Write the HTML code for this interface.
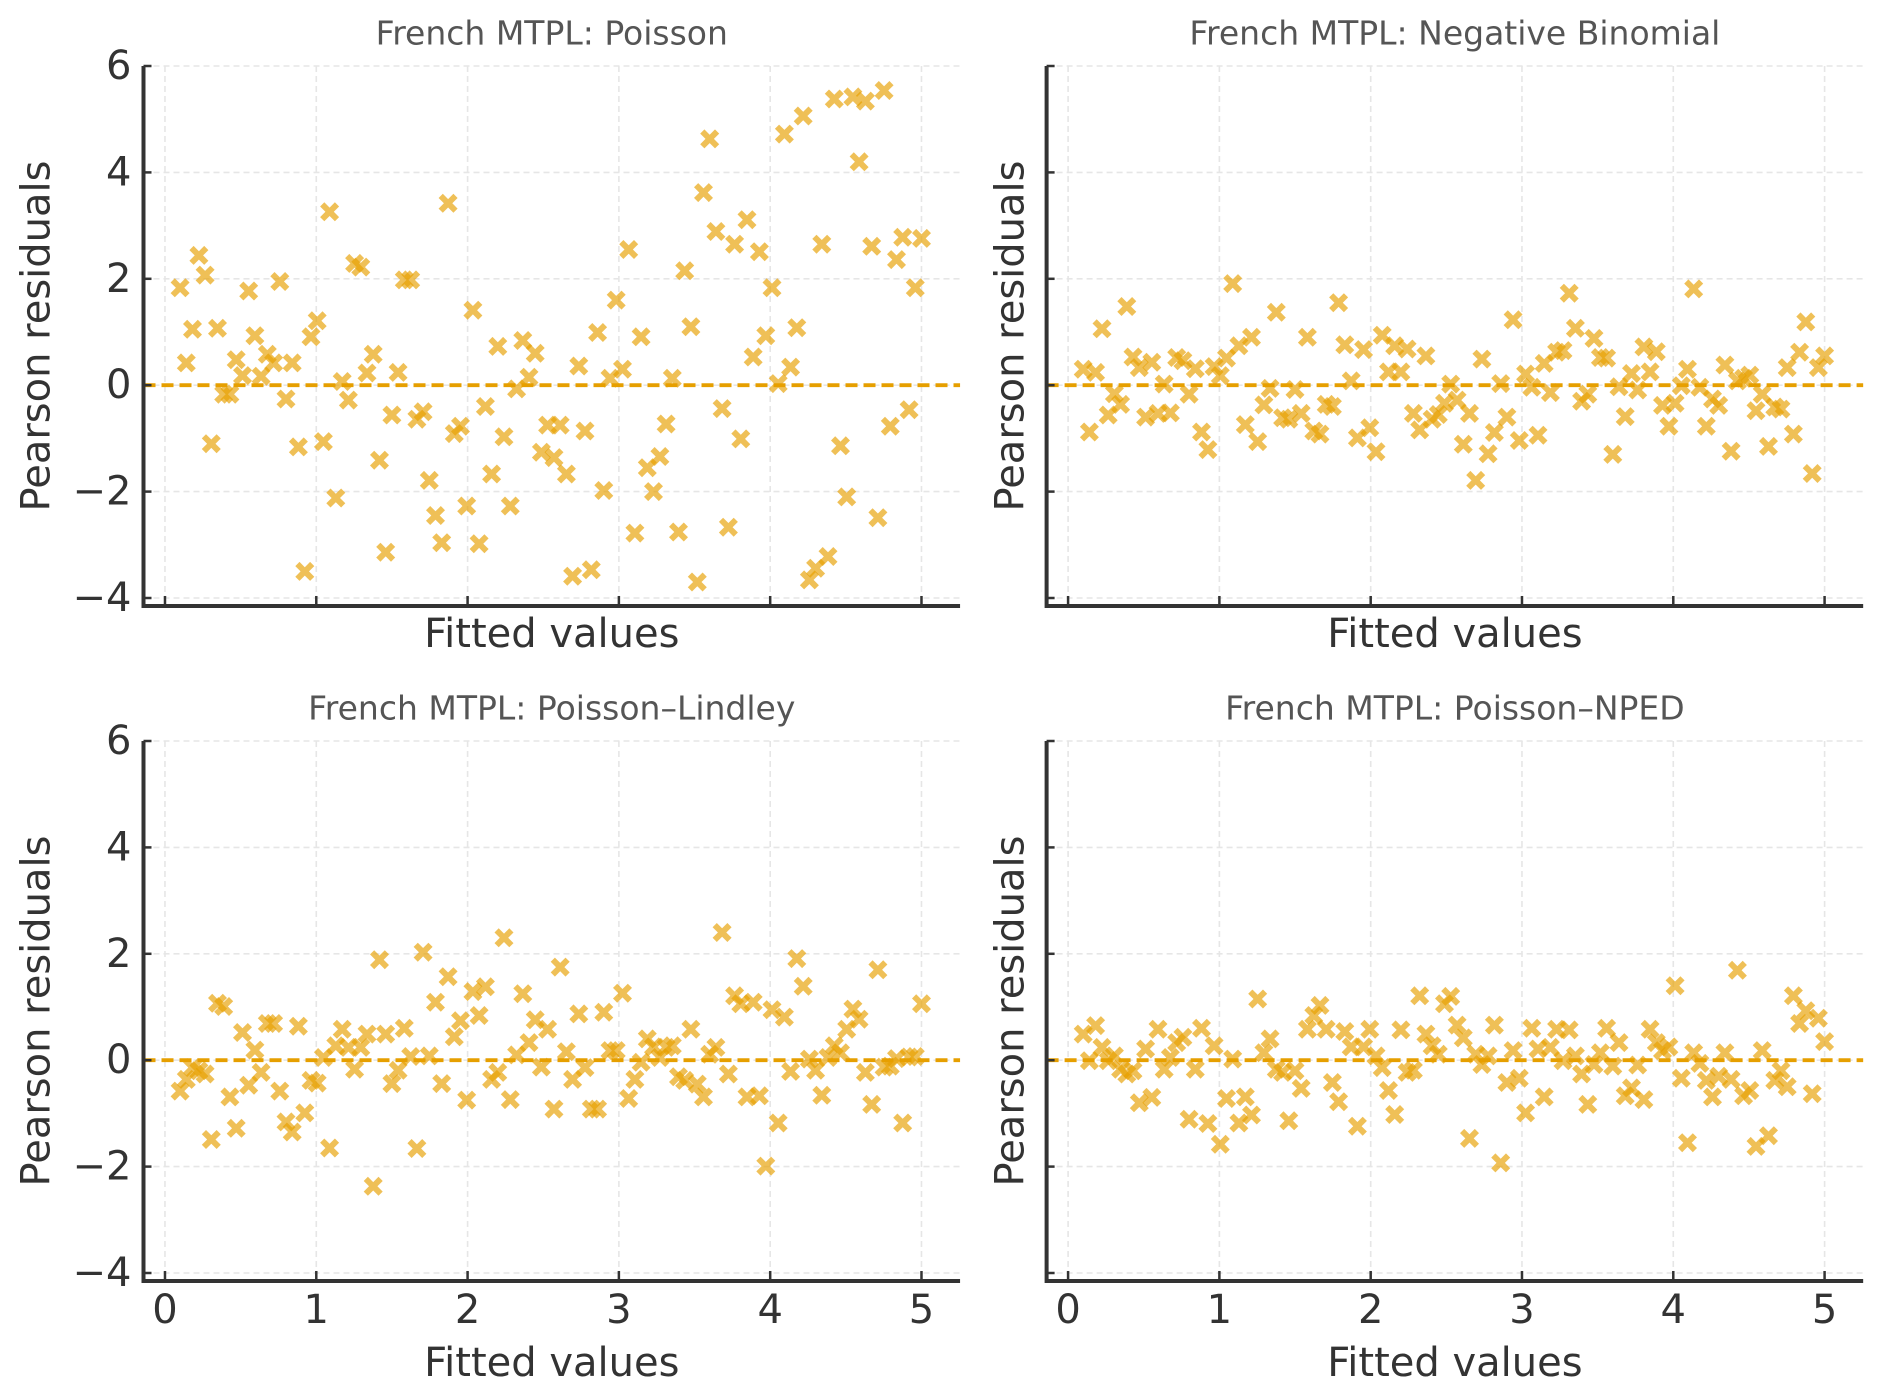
<!DOCTYPE html>
<html><head><meta charset="utf-8"><style>
html,body{margin:0;padding:0;background:#fff;}
svg{display:block;font-family:"DejaVu Sans","Liberation Sans",sans-serif;}
</style></head><body>
<svg id="chart" xmlns="http://www.w3.org/2000/svg" width="1891" height="1396" viewBox="0 0 1891 1396"></svg>
<script>
const fitted=[0.100,0.141,0.182,0.224,0.265,0.306,0.347,0.388,0.429,0.471,
0.512,0.553,0.594,0.635,0.676,0.718,0.759,0.800,0.841,0.882,
0.924,0.965,1.006,1.047,1.088,1.129,1.171,1.212,1.253,1.294,
1.335,1.376,1.418,1.459,1.500,1.541,1.582,1.624,1.665,1.706,
1.747,1.788,1.829,1.871,1.912,1.953,1.994,2.035,2.076,2.118,
2.159,2.200,2.241,2.282,2.324,2.365,2.406,2.447,2.488,2.529,
2.571,2.612,2.653,2.694,2.735,2.776,2.818,2.859,2.900,2.941,
2.982,3.024,3.065,3.106,3.147,3.188,3.229,3.271,3.312,3.353,
3.394,3.435,3.476,3.518,3.559,3.600,3.641,3.682,3.724,3.765,
3.806,3.847,3.888,3.929,3.971,4.012,4.053,4.094,4.135,4.176,
4.218,4.259,4.300,4.341,4.382,4.424,4.465,4.506,4.547,4.588,
4.629,4.671,4.712,4.753,4.794,4.835,4.876,4.918,4.959,5.000];
const residPoisson=[1.83,0.42,1.05,2.44,2.07,-1.10,1.07,-0.17,-0.17,0.48,
0.18,1.77,0.93,0.17,0.58,0.42,1.95,-0.26,0.42,-1.16,
-3.5,0.91,1.21,-1.06,3.26,-2.12,0.07,-0.28,2.29,2.22,
0.23,0.58,-1.41,-3.14,-0.56,0.24,1.98,1.98,-0.64,-0.5,
-1.79,-2.45,-2.96,3.42,-0.91,-0.77,-2.27,1.41,-2.98,-0.40,
-1.67,0.73,-0.97,-2.27,-0.07,0.84,0.15,0.60,-1.26,-0.75,
-1.36,-0.75,-1.67,-3.59,0.36,-0.86,-3.47,0.99,-1.98,0.13,
1.60,0.30,2.55,-2.78,0.91,-1.55,-2.0,-1.34,-0.73,0.13,
-2.76,2.15,1.10,-3.70,3.62,4.63,2.89,-0.44,-2.67,2.65,
-1.01,3.11,0.53,2.51,0.93,1.83,0.03,4.72,0.34,1.08,
5.06,-3.66,-3.44,2.65,-3.22,5.38,-1.14,-2.10,5.42,4.20,
5.34,2.61,-2.49,5.54,-0.77,2.36,2.78,-0.46,1.83,2.76];
const residNegBin=[0.30,-0.88,0.24,1.06,-0.56,-0.16,-0.36,1.48,0.53,0.33,
-0.60,0.43,-0.53,0.02,-0.52,0.52,0.46,-0.17,0.31,-0.88,
-1.21,0.35,0.18,0.51,1.91,0.74,-0.74,0.90,-1.06,-0.37,
-0.06,1.37,-0.61,-0.64,-0.08,-0.53,0.90,-0.86,-0.92,-0.36,
-0.40,1.55,0.76,0.08,-0.99,0.67,-0.80,-1.25,0.94,0.25,
0.74,0.25,0.68,-0.53,-0.84,0.55,-0.64,-0.55,-0.34,0.02,
-0.28,-1.11,-0.53,-1.79,0.49,-1.29,-0.89,0.03,-0.60,1.23,
-1.04,0.21,-0.04,-0.94,0.41,-0.14,0.62,0.65,1.73,1.07,
-0.30,-0.17,0.88,0.52,0.51,-1.30,-0.03,-0.59,0.22,-0.09,
0.72,0.25,0.63,-0.38,-0.77,-0.34,-0.01,0.30,1.81,-0.04,
-0.77,-0.26,-0.38,0.38,-1.24,0.08,0.13,0.19,-0.48,-0.17,
-1.15,-0.41,-0.45,0.33,-0.92,0.62,1.19,-1.66,0.33,0.55];
const residLindley=[-0.58,-0.36,-0.14,-0.20,-0.26,-1.49,1.07,1.01,-0.69,-1.28,
0.52,-0.47,0.19,-0.23,0.69,0.69,-0.58,-1.16,-1.35,0.64,
-0.99,-0.38,-0.43,0.05,-1.65,0.27,0.58,0.24,-0.17,0.24,
0.49,-2.37,1.89,0.49,-0.44,-0.19,0.60,0.07,-1.66,2.03,
0.08,1.09,-0.44,1.57,0.44,0.74,-0.75,1.29,0.84,1.38,
-0.36,-0.23,2.30,-0.74,0.10,1.25,0.33,0.76,-0.13,0.58,
-0.92,1.75,0.16,-0.36,0.87,-0.14,-0.92,-0.92,0.90,0.18,
0.18,1.26,-0.72,-0.36,-0.04,0.40,0.25,0.05,0.24,0.27,
-0.31,-0.38,0.58,-0.45,-0.69,0.11,0.24,2.40,-0.26,1.21,
1.06,-0.69,1.09,-0.67,-1.99,0.95,-1.18,0.81,-0.21,1.91,
1.39,0.02,-0.19,-0.66,0.05,0.27,0.14,0.58,0.96,0.77,
-0.23,-0.83,1.70,-0.13,-0.11,0.03,-1.18,0.06,0.07,1.06];
const residNPED=[0.49,-0.01,0.65,0.24,-0.01,0.08,-0.17,-0.26,-0.20,-0.80,
0.21,-0.70,0.58,-0.17,0.05,0.33,0.43,-1.11,-0.17,0.60,
-1.19,0.27,-1.58,-0.72,0.02,-1.18,-0.69,-1.03,1.15,0.14,
0.40,-0.17,-0.23,-1.14,-0.20,-0.53,0.58,0.84,1.03,0.58,
-0.42,-0.78,0.54,0.25,-1.24,0.25,0.58,0.08,-0.14,-0.57,
-1.02,0.57,-0.23,-0.19,1.21,0.49,0.27,0.11,1.06,1.20,
0.66,0.42,-1.47,0.11,-0.08,0.08,0.66,-1.93,-0.42,0.18,
-0.34,-0.99,0.60,0.21,-0.69,0.24,0.58,-0.01,0.57,0.08,
-0.26,-0.83,-0.08,0.14,0.60,-0.11,0.33,-0.67,-0.52,-0.09,
-0.74,0.58,0.33,0.18,0.25,1.40,-0.34,-1.55,0.14,-0.06,
-0.38,-0.69,-0.30,0.14,-0.36,1.69,-0.67,-0.57,-1.62,0.18,
-1.42,-0.38,-0.20,-0.50,1.21,0.69,0.93,-0.63,0.79,0.35];
const xTicks=[0,1,2,3,4,5];
const yTicks=[-4,-2,0,2,4,6];
const yTickLabels=["\u22124","\u22122","0","2","4","6"];
const panelTitles=["French MTPL: Poisson","French MTPL: Negative Binomial","French MTPL: Poisson\u2013Lindley","French MTPL: Poisson\u2013NPED"];

const NS="http://www.w3.org/2000/svg";
const svg=document.getElementById('chart');
function mk(tag,attrs,parent){const e=document.createElementNS(NS,tag);for(const k in attrs)e.setAttribute(k,attrs[k]);(parent||svg).appendChild(e);return e;}

const XMIN=-0.142, XMAX=5.255, YMAX=6, YMIN=-4.15, PXX=151.3, PXY=53.2;

function drawPanel(ox,oy,title,data,key,showXLabels,showYLabels){
  const g=mk('g',{});
  
  
  const sx=x=>ox+(x-XMIN)*PXX;
  const sy=y=>oy+(YMAX-y)*PXY;
  const right=sx(XMAX), bottom=sy(YMIN);
  xTicks.forEach(t=>{const l=mk('line',{x1:sx(t),x2:sx(t),y1:oy,y2:bottom,stroke:'#e6e6e6','stroke-width':1.6,'stroke-dasharray':'6,4'},g);
    });
  yTicks.forEach(t=>{const l=mk('line',{x1:ox,x2:right,y1:sy(t),y2:sy(t),stroke:'#e6e6e6','stroke-width':1.6,'stroke-dasharray':'6,4'},g);
    });
  const z=mk('line',{x1:ox,x2:right,y1:sy(0),y2:sy(0),stroke:'#E69F00','stroke-width':3.8,'stroke-dasharray':'12,6'},g);
  
  
  const pg=mk('g',{fill:'#E69F00','fill-opacity':0.66},g);
  
  
  const s=9.5,t=4.2;
  const d=`M${-s} ${-s+t} L${-s+t} ${-s} L0 ${-t} L${s-t} ${-s} L${s} ${-s+t} L${t} 0 L${s} ${s-t} L${s-t} ${s} L0 ${t} L${-s+t} ${s} L${-s} ${s-t} L${-t} 0 Z`;
  data.forEach((v,i)=>{const p=mk('path',{d:d,transform:`translate(${sx(fitted[i]).toFixed(1)},${sy(v).toFixed(1)})`},pg);
    });
  xTicks.forEach(t=>{const l=mk('line',{x1:sx(t),x2:sx(t),y1:bottom,y2:bottom-10,stroke:'#333','stroke-width':2.5},g);
    
    if(showXLabels){const tx=mk('text',{x:sx(t),y:bottom+29,'font-size':40,fill:'#333','text-anchor':'middle','dominant-baseline':'central'},g);
      tx.textContent=String(t);}});
  yTicks.forEach((t,i)=>{const l=mk('line',{x1:ox,x2:ox+8,y1:sy(t),y2:sy(t),stroke:'#333','stroke-width':2.5},g);
    
    if(showYLabels){const tx=mk('text',{x:ox-12,y:sy(t),'font-size':40,fill:'#333','text-anchor':'end','dominant-baseline':'central'},g);
      tx.textContent=yTickLabels[i];}});
  const sp=mk('path',{d:`M${ox} ${oy} L${ox} ${bottom} L${right} ${bottom}`,fill:'none',stroke:'#333','stroke-width':4},g);
  
  
  const xl=mk('text',{x:(ox+right)/2,y:showXLabels?bottom+82:bottom+28,'font-size':40,fill:'#333','text-anchor':'middle','dominant-baseline':'central'},g);
  xl.textContent='Fitted values';
  
  
  const yc=(oy+bottom)/2, yx=showYLabels?ox-107:ox-36;
  const yl=mk('text',{x:yx,y:yc,'font-size':40,fill:'#333','text-anchor':'middle','dominant-baseline':'central',transform:`rotate(-90 ${yx} ${yc})`},g);
  yl.textContent='Pearson residuals';
  
  
  const ti=mk('text',{x:(ox+right)/2,y:oy-33,'font-size':33,fill:'#555','text-anchor':'middle','dominant-baseline':'central'},g);
  ti.textContent=title;
  
  
}
drawPanel(143.5,66,panelTitles[0],residPoisson,'poisson',false,true);
drawPanel(1046.6,66,panelTitles[1],residNegBin,'negative-binomial',false,false);
drawPanel(143.5,741,panelTitles[2],residLindley,'poisson-lindley',true,true);
drawPanel(1046.6,741,panelTitles[3],residNPED,'poisson-nped',true,false);
</script>
</body></html>
